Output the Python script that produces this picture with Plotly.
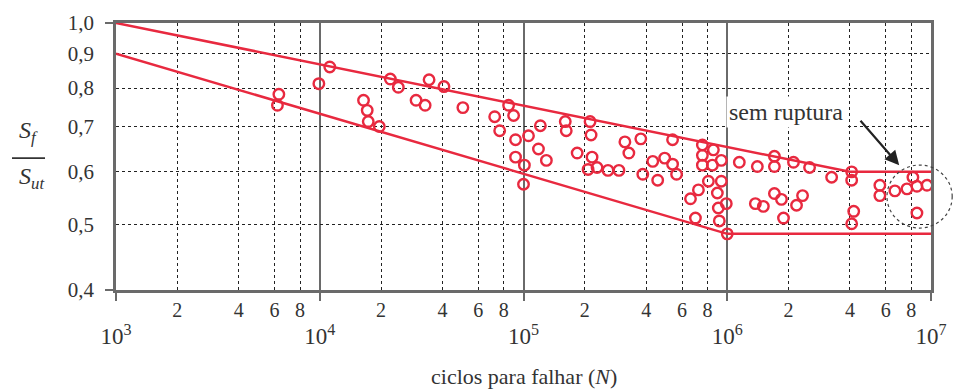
import plotly.graph_objects as go

# ---- data ----
cycles = [6200, 6300, 9900, 11200, 16400, 17100, 17300, 19600, 22200, 24300,
          29700, 32900, 34400, 40700, 50400, 72200, 76400, 84500, 89400, 91400,
          91400, 101000, 100000, 105800, 121000, 118400, 129500, 160300, 162100, 183400,
          212200, 214600, 217000, 207500, 229600, 259800, 294000, 314500, 328900, 376400,
          385000, 431000, 455600, 493000, 539000, 539000, 564000, 660000, 722000, 698000,
          755000, 755000, 755000, 855000, 845000, 935000, 808000, 935000, 894000, 904000,
          989000, 914000, 1000000, 1146000, 1405000, 1704000, 1704000, 2114000, 2535000, 3253000,
          4080000, 4080000, 5610000, 5610000, 6650000, 7620000, 8150000, 8530000, 9560000, 8530000,
          1704000, 1845000, 1374000, 1504000, 1888000, 2188000, 2342000, 4175000, 4080000]
ratio = [0.754, 0.783, 0.812, 0.860, 0.767, 0.741, 0.713, 0.701, 0.825, 0.802,
         0.767, 0.754, 0.823, 0.804, 0.748, 0.725, 0.691, 0.754, 0.728, 0.670,
         0.631, 0.614, 0.575, 0.679, 0.703, 0.649, 0.624, 0.713, 0.691, 0.640,
         0.713, 0.681, 0.631, 0.605, 0.609, 0.603, 0.603, 0.665, 0.640, 0.672,
         0.595, 0.622, 0.583, 0.629, 0.670, 0.616, 0.595, 0.547, 0.564, 0.512,
         0.658, 0.635, 0.614, 0.647, 0.614, 0.624, 0.581, 0.581, 0.558, 0.530,
         0.538, 0.507, 0.485, 0.620, 0.611, 0.633, 0.611, 0.620, 0.609, 0.589,
         0.600, 0.583, 0.573, 0.553, 0.562, 0.566, 0.589, 0.571, 0.573, 0.521,
         0.557, 0.546, 0.538, 0.533, 0.512, 0.535, 0.553, 0.524, 0.502]

upper_N = [1e3, 4.0e6, 1e7]
upper_S = [1.0, 0.6, 0.6]
lower_N = [1e3, 1e6, 1e7]
lower_S = [0.9, 0.485, 0.485]

decade_vals = [1e3, 1e4, 1e5, 1e6, 1e7]
decade_text = ["10<sup>3</sup>", "10<sup>4</sup>", "10<sup>5</sup>", "10<sup>6</sup>", "10<sup>7</sup>"]
minor_vals = [m * d for d in [1e3, 1e4, 1e5, 1e6] for m in (2, 4, 6, 8)]
minor_text = [str(m) for d in range(4) for m in (2, 4, 6, 8)]
y_vals = [0.4, 0.5, 0.6, 0.7, 0.8, 0.9, 1.0]
y_text = ["0,4", "0,5", "0,6", "0,7", "0,8", "0,9", "1,0"]

RED = "#e8293f"
GRAY = "#6a6a6a"
SERIF = "Liberation Serif"

fig = go.Figure()
fig.add_trace(go.Scatter(x=upper_N, y=upper_S, mode="lines",
                         line=dict(color=RED, width=2.5), showlegend=False, hoverinfo="skip"))
fig.add_trace(go.Scatter(x=lower_N, y=lower_S, mode="lines",
                         line=dict(color=RED, width=2.5), showlegend=False, hoverinfo="skip"))
fig.add_trace(go.Scatter(x=cycles, y=ratio, mode="markers",
                         marker=dict(symbol="circle-open", size=10.5, color=RED,
                                     line=dict(width=2.4, color=RED)),
                         showlegend=False))
# invisible trace to activate xaxis2 (minor labels)
fig.add_trace(go.Scatter(x=[1e3, 1e7], y=[0.5, 0.5], xaxis="x2", mode="markers",
                         marker=dict(opacity=0), showlegend=False, hoverinfo="skip"))

fig.update_layout(
    width=959, height=390,
    margin=dict(l=116, r=28, t=23, b=100),
    paper_bgcolor="white", plot_bgcolor="white",
    font=dict(family=SERIF, color="#333"),
    xaxis=dict(
        type="log", range=[3, 7], automargin=False,
        tickmode="array", tickvals=decade_vals, ticktext=decade_text,
        tickfont=dict(size=23, family=SERIF, color="#333"),
        ticks="outside", ticklen=8, tickwidth=2, tickcolor=GRAY,
        ticklabelstandoff=16,
        showgrid=True, gridcolor=GRAY, gridwidth=2,
        showline=True, linecolor=GRAY, linewidth=2.5, mirror=True,
        zeroline=False,
        minor=dict(tickmode="array", tickvals=minor_vals, showgrid=True,
                   gridcolor="#222", gridwidth=1, griddash="dot", ticks=""),
    ),
    xaxis2=dict(
        type="log", overlaying="x", matches="x", side="bottom", anchor="y",
        automargin=False,
        tickmode="array", tickvals=minor_vals, ticktext=minor_text,
        tickfont=dict(size=20, family=SERIF, color="#333"),
        ticks="", showgrid=False, showline=False, zeroline=False,
        ticklabelstandoff=6,
    ),
    yaxis=dict(
        type="log", range=[-0.39794, 0], automargin=False,
        tickmode="array", tickvals=y_vals, ticktext=y_text,
        tickfont=dict(size=21, family=SERIF, color="#333"),
        ticks="", ticklabelstandoff=15,
        showgrid=True, gridcolor="#222", gridwidth=1, griddash="dot",
        showline=True, linecolor=GRAY, linewidth=2.5, mirror=True,
        zeroline=False,
        minor=dict(tickmode="array", tickvals=[0.4, 1.0], ticks="outside",
                   ticklen=8, tickwidth=2, tickcolor=GRAY, showgrid=False),
    ),
    annotations=[
        dict(text="ciclos para falhar (<i>N</i>)", xref="paper", yref="paper",
             x=0.5, y=-0.325, xanchor="center", yanchor="middle", showarrow=False,
             font=dict(size=22, family=SERIF, color="#333")),
        dict(text="<i>S<sub>f</sub></i>", xref="paper", yref="paper",
             x=-0.107, y=0.59, xanchor="center", yanchor="middle", showarrow=False,
             font=dict(size=24, family=SERIF, color="#333")),
        dict(text="<i>S<sub>ut</sub></i>", xref="paper", yref="paper",
             x=-0.104, y=0.42, xanchor="center", yanchor="middle", showarrow=False,
             font=dict(size=24, family=SERIF, color="#333")),
        dict(text="sem ruptura", xref="paper", yref="paper",
             x=0.822, y=0.665, xanchor="center", yanchor="middle", showarrow=False,
             bgcolor="white", borderpad=2,
             font=dict(size=24, family=SERIF, color="#333")),
        dict(text="", xref="paper", yref="paper", x=0.961, y=0.467,
             ax=-40, ay=-46, axref="pixel", ayref="pixel",
             showarrow=True, arrowhead=2, arrowsize=1.3, arrowwidth=2.2,
             arrowcolor="#222"),
    ],
    shapes=[
        dict(type="line", xref="paper", yref="paper", x0=-0.1276, x1=-0.0871,
             y0=0.494, y1=0.494, line=dict(color="#333", width=1.8)),
        dict(type="circle", xref="paper", yref="paper", x0=0.946, x1=1.026,
             y0=0.232, y1=0.468, line=dict(color="#444", width=1.2, dash="dot")),
    ],
)

fig.write_html("out.html", config={"displayModeBar": False},
               post_script="document.body.style.margin='0px';document.body.style.padding='0px';")
